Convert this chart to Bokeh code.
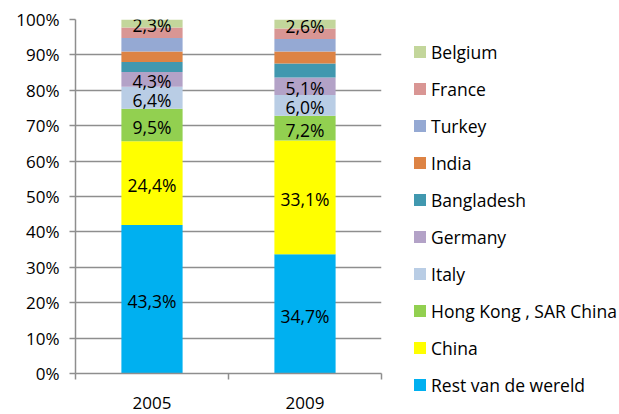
from bokeh.plotting import figure
from bokeh.models import (ColumnDataSource, Legend, LegendItem, FixedTicker,
                          Range1d, NumeralTickFormatter)
from bokeh.core.properties import value
from bokeh.embed import file_html
from bokeh.resources import INLINE

# ---- data ----
years = ["2005", "2009"]
series = ["Rest van de wereld", "China", "Hong Kong , SAR China", "Italy", "Germany",
          "Bangladesh", "India", "Turkey", "France", "Belgium"]
values_2005 = [43.3, 24.4, 9.5, 6.4, 4.3, 2.9, 3.1, 3.9, 3.1, 2.3]
values_2009 = [34.7, 33.1, 7.2, 6.0, 5.1, 4.1, 3.5, 3.6, 3.1, 2.6]
labelled = ["Rest van de wereld", "China", "Hong Kong , SAR China", "Italy", "Germany", "Belgium"]
colors = ["#00B0F0", "#FFFF00", "#92D050", "#B9CDE5", "#B3A2C7",
          "#4198AF", "#DD8344", "#95A9D3", "#D99694", "#C3D69B"]
y_ticks = [0.0, 0.1, 0.2, 0.3, 0.4, 0.5, 0.6, 0.7, 0.8, 0.9, 1.0]

FONT = "Open Sans"

# category slots on a numeric axis: slot i spans [i, i+1]
xpos = [i + 0.5 for i in range(len(years))]
edges = list(range(len(years) + 1))

# 100% stacked: normalise each year's values
per_year = [values_2005, values_2009]
totals = [sum(v) for v in per_year]
keys = [f"s{i}" for i in range(len(series))]
data = {"x": xpos, "year": years}
for i, k in enumerate(keys):
    data[k] = [per_year[j][i] / totals[j] for j in range(len(years))]
src = ColumnDataSource(data)

# label positions
lx, ly, lt = [], [], []
for j in range(len(years)):
    cum = 0.0
    for i, name in enumerate(series):
        frac = per_year[j][i] / totals[j]
        if name in labelled:
            lx.append(xpos[j])
            ly.append(cum + frac / 2)
            lt.append(f"{per_year[j][i]:.1f}".replace(".", ",") + "%")
        cum += frac
lab_src = ColumnDataSource(dict(x=lx, y=ly, text=lt))

p = figure(x_range=Range1d(0, len(years)), y_range=Range1d(0, 1), output_backend="svg",
           toolbar_location=None,
           frame_width=306, frame_height=354, min_border_left=75, min_border_top=19,
           min_border_right=238, min_border_bottom=41,
           outline_line_color=None, background_fill_color="white", border_fill_color="white")

rs = p.vbar_stack(keys, x="x", width=0.4, source=src, color=colors, line_color=None)

p.text(x="x", y="y", text="text", source=lab_src, text_font=value(FONT),
       text_font_size="17.5px", text_align="center", text_baseline="middle", text_color="black",
       y_offset=2)

GRAY = "#8E8E8E"
# y axis
ya = p.yaxis[0]
ya.ticker = FixedTicker(ticks=y_ticks)
ya.formatter = NumeralTickFormatter(format="0%")
ya.axis_line_color = GRAY
ya.axis_line_width = 1.5
ya.major_tick_line_color = GRAY
ya.major_tick_line_width = 1.5
ya.major_tick_out = 6
ya.major_tick_in = 0
ya.minor_tick_line_color = None
ya.major_label_text_font = FONT
ya.major_label_text_font_size = "17px"
ya.major_label_text_color = "black"
ya.major_label_standoff = 10

p.ygrid.grid_line_color = GRAY
p.ygrid.grid_line_width = 1.5
p.xgrid.grid_line_color = None

# x axis: labels at category centres, tick marks at category boundaries
xa = p.xaxis[0]
xa.ticker = FixedTicker(ticks=xpos, minor_ticks=edges)
xa.major_label_overrides = {xv: yr for xv, yr in zip(xpos, years)}
xa.axis_line_color = GRAY
xa.axis_line_width = 1.5
xa.major_tick_line_color = None
xa.major_tick_out = 0
xa.major_tick_in = 0
xa.minor_tick_line_color = GRAY
xa.minor_tick_line_width = 1.5
xa.minor_tick_out = 6
xa.minor_tick_in = 0
xa.major_label_text_font = FONT
xa.major_label_text_font_size = "17px"
xa.major_label_text_color = "black"
xa.major_label_standoff = 17

legend = Legend(items=[LegendItem(label=series[i], renderers=[rs[i]]) for i in reversed(range(len(series)))],
                location=(31, -24), orientation="vertical", margin=0, padding=0, spacing=12,
                glyph_width=15, glyph_height=15, label_height=25, label_standoff=4,
                label_text_font=FONT, label_text_font_size="17.5px", label_text_color="black",
                border_line_color=None, background_fill_alpha=0)
p.add_layout(legend, "right")

open("out.html", "w").write(file_html(p, INLINE))
